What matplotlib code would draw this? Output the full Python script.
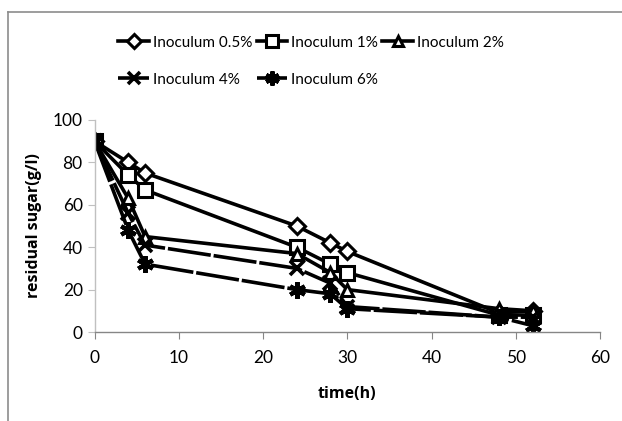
import matplotlib
matplotlib.use('Agg')
import matplotlib.pyplot as plt
from matplotlib.lines import Line2D

plt.rcParams['font.family'] = ['Lato', 'DejaVu Sans']

time_h = [0, 4, 6, 24, 28, 30, 48, 52]
labels = ['Inoculum 0.5%', 'Inoculum 1%', 'Inoculum 2%', 'Inoculum 4%', 'Inoculum 6%']
sugar = [
    [90, 80, 75, 50, 42, 38, 9, 10],
    [90, 74, 67, 40, 32, 28, 8, 8],
    [90, 63, 45, 37, 28, 20, 11, 10],
    [90, 56, 41, 30, 23, 12, 7, 7],
    [90, 48, 32, 20, 18, 11, 7, 3],
]
markers = ['D', 's', '^', 'x', (6, 2, 0)]
msizes = [8, 10, 9, 10, 12]
mews = [2.2, 2.2, 2.2, 2.6, 3.0]
dashed = [False, False, False, True, True]

fig = plt.figure(figsize=(6.22, 4.21), dpi=100)
fig.patch.set_facecolor('white')
ax = fig.add_axes([0.152, 0.2114, 0.8126, 0.5036])

handles = []
for vals, lab, m, ms, mew, d in zip(sugar, labels, markers, msizes, mews, dashed):
    kw = dict(color='black', lw=2.6, marker=m, markersize=ms,
              markerfacecolor='white', markeredgecolor='black',
              markeredgewidth=mew, label=lab)
    if d:
        kw['dashes'] = (12, 0.8)
    h, = ax.plot(time_h, vals, **kw)
    handles.append(h)

ax.set_xlim(0, 60)
ax.set_ylim(0, 100)
ax.set_xticks(range(0, 61, 10))
ax.set_yticks(range(0, 101, 20))

ax.spines['top'].set_visible(False)
ax.spines['right'].set_visible(False)
ax.spines['left'].set_color('#c0c0c0')
ax.spines['bottom'].set_color('#868686')
ax.spines['left'].set_linewidth(1)
ax.spines['bottom'].set_linewidth(1)
ax.tick_params(axis='y', colors='#c0c0c0', labelcolor='black', length=5, labelsize=12.5)
ax.tick_params(axis='x', colors='#868686', labelcolor='black', length=5, labelsize=12.5, pad=8)

bold = dict(fontsize=11.5, fontweight='bold', family=['Open Sans', 'DejaVu Sans'])
ax.set_xlabel('time(h)', labelpad=14, **bold)
ax.set_ylabel('residual sugar(g/l)', labelpad=8, **bold)

# legend: reorder so row 1 = 0.5%, 1%, 2% and row 2 = 4%, 6%
order = [0, 3, 1, 4, 2]
leg = fig.legend([handles[i] for i in order], [labels[i] for i in order],
                 ncol=3, loc='upper left', bbox_to_anchor=(0.168, 0.948),
                 frameon=False, fontsize=11, handlelength=2.0,
                 handletextpad=0.25, columnspacing=0.3, labelspacing=1.5,
                 markerscale=0.85)

# chart area border (grey, top and left edges)
fig.add_artist(Line2D([8 / 622, 8 / 622], [0, 1 - 12 / 421], color='#8c8c8c', lw=1.2))
fig.add_artist(Line2D([8 / 622, 1], [1 - 12 / 421, 1 - 12 / 421], color='#8c8c8c', lw=1.2))

fig.savefig('out.png', dpi=100)
